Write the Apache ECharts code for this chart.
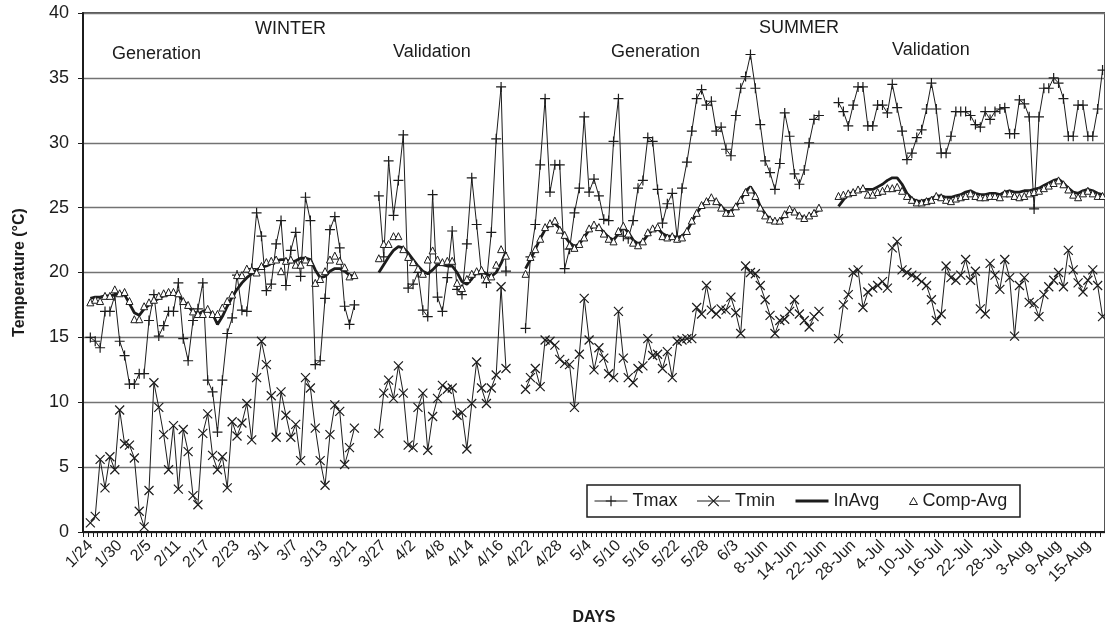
<!DOCTYPE html>
<html>
<head>
<meta charset="utf-8">
<script src="https://cdn.jsdelivr.net/npm/echarts@6/dist/echarts.min.js"></script>
<style>
  html, body { margin: 0; padding: 0; background: #fff; }
  #chart { width: 1105px; height: 631px; }
</style>
</head>
<body>
<div id="chart"></div>
<script>
// ---- day slots on the category axis ----
const dayCount = 209;
const tickLabels = ['1/24','1/30','2/5','2/11','2/17','2/23','3/1','3/7','3/13','3/21','3/27','4/2','4/8','4/14','4/16',
  '4/22','4/28','5/4','5/10','5/16','5/22','5/28','6/3','8-Jun','14-Jun','22-Jun','28-Jun','4-Jul','10-Jul','16-Jul',
  '22-Jul','28-Jul','3-Aug','9-Aug','15-Aug'];
const firstTickDay = 1;
const tickStep = 6;

// first day slot of each measurement period
const winterGenStart = 1;
const winterValStart = 60;
const summerGenStart = 90;
const summerValStart = 154;

// ---- winter, generation ----
const winterGenTmax = [15.0, 14.7, 14.2, 17.0, 17.0, 18.2, 14.7, 13.6, 11.4, 11.4, 12.2, 12.2, 16.3, 18.3, 15.1, 15.9,
  17.0, 17.0, 19.2, 14.9, 13.2, 16.3, 17.2, 19.2, 11.7, 10.8, 7.7, 11.7, 15.3, 16.5, 19.8, 17.1, 17.0, 20.3, 24.6, 22.8,
  18.6, 19.1, 22.2, 24.0, 19.0, 21.7, 23.1, 19.7, 25.8, 24.0, 12.9, 13.2, 18.0, 23.3, 24.3, 21.9, 17.4, 16.0, 17.5];
const winterGenTmin = [0.7, 1.2, 5.6, 3.4, 5.8, 4.8, 9.4, 6.8, 6.7, 5.7, 1.6, 0.4, 3.2, 11.5, 9.6, 7.5, 4.8, 8.2, 3.3,
  7.9, 6.2, 2.8, 2.1, 7.6, 9.1, 5.9, 4.8, 5.8, 3.4, 8.5, 7.4, 8.4, 9.9, 7.1, 11.9, 14.7, 12.9, 10.5, 7.3, 10.8, 9.0, 7.3,
  8.3, 5.5, 11.9, 11.1, 8.0, 5.5, 3.6, 7.5, 9.8, 9.3, 5.2, 6.5, 8.0];
const winterGenInAvg = [18.0, 18.1, 18.1, 18.2, 18.2, 18.3, 18.4, 18.3, 17.6, 16.9, 16.7, 17.2, 17.5, 17.8, 18.0, 18.2,
  18.3, 18.4, 18.3, 17.8, 17.4, 17.0, 16.8, 17.0, 17.1, 16.8, 16.0, 16.6, 17.4, 18.1, 18.7, 19.2, 19.6, 19.9, 20.2, 20.4,
  20.5, 20.7, 20.9, 21.0, 21.0, 20.8, 20.9, 21.1, 21.1, 21.0, 20.2, 19.6, 19.7, 20.1, 20.3, 20.3, 20.1, 19.8, 19.7];
const winterGenComp = [17.7, 17.9, 17.8, 18.2, 18.2, 18.7, 18.4, 18.5, 17.8, 16.4, 16.4, 17.4, 17.7, 17.9, 18.2, 18.4,
  18.5, 18.5, 18.4, 17.8, 17.5, 17.0, 16.8, 16.8, 17.2, 16.8, 16.8, 17.3, 17.8, 18.3, 19.8, 19.8, 20.3, 20.2, 20.0, 20.5,
  20.8, 20.9, 21.0, 20.1, 20.9, 21.0, 20.6, 20.6, 21.0, 20.8, 19.2, 19.5, 20.1, 21.0, 21.3, 20.9, 20.4, 19.7, 19.8];

// ---- winter, validation ----
const winterValTmax = [25.9, 21.2, 28.6, 24.4, 27.1, 30.6, 18.8, 19.1, 20.0, 17.1, 16.6, 26.0, 18.1, 17.0, 19.6, 23.2,
  18.7, 18.3, 22.2, 27.3, 23.7, 19.9, 19.2, 23.1, 30.3, 34.3, 20.1];
const winterValTmin = [7.6, 10.7, 11.7, 10.3, 12.8, 10.7, 6.7, 6.5, 9.6, 10.7, 6.3, 8.9, 10.3, 11.3, 11.0, 11.1, 9.0,
  9.2, 6.4, 9.9, 13.1, 11.1, 9.9, 11.1, 12.1, 18.9, 12.6];
const winterValInAvg = [20.0, 20.6, 21.2, 21.7, 22.0, 21.9, 21.5, 21.0, 20.5, 20.1, 19.9, 20.2, 20.6, 20.6, 20.5, 20.5,
  20.0, 19.3, 19.1, 19.5, 20.0, 20.1, 19.9, 19.7, 20.0, 20.7, 21.6];
const winterValComp = [21.1, 22.2, 22.2, 22.8, 22.8, 21.8, 21.2, 20.8, 20.3, 19.9, 21.0, 21.7, 21.0, 20.8, 20.9, 20.9,
  19.2, 18.8, 19.5, 19.9, 20.1, 20.2, 19.5, 19.7, 20.6, 21.8, 21.3];

// ---- summer, generation ----
const summerGenTmax = [15.7, 21.2, 23.7, 28.3, 33.4, 26.2, 28.3, 28.3, 20.3, 21.8, 24.6, 26.5, 32.0, 26.2, 27.2, 25.9,
  24.1, 24.0, 30.1, 33.4, 22.8, 22.6, 24.0, 26.5, 27.1, 30.4, 30.1, 26.4, 23.8, 25.3, 26.1, 22.7, 26.5, 28.5, 30.9, 33.4,
  34.1, 32.9, 33.2, 30.9, 31.2, 29.5, 29.0, 32.1, 34.2, 35.1, 36.8, 34.2, 31.4, 28.6, 27.7, 26.4, 28.4, 32.3, 30.5, 27.6,
  26.8, 27.9, 30.0, 31.8, 32.1];
const summerGenTmin = [11.0, 11.9, 12.6, 11.2, 14.8, 14.7, 14.4, 13.3, 13.0, 12.9, 9.6, 13.7, 18.0, 14.8, 12.5, 14.2,
  13.4, 12.2, 11.9, 17.0, 13.4, 11.9, 11.5, 12.6, 12.8, 14.9, 13.6, 13.7, 12.6, 13.9, 11.9, 14.7, 14.8, 14.9, 14.9, 17.3,
  16.8, 19.0, 17.1, 16.8, 17.2, 17.1, 18.1, 16.9, 15.3, 20.5, 20.0, 19.9, 19.0, 17.9, 16.7, 15.3, 16.3, 16.4, 17.0, 17.9,
  16.8, 16.3, 15.8, 16.6, 17.0];
const summerGenInAvg = [20.3, 21.0, 21.8, 22.6, 23.3, 23.7, 23.8, 23.4, 22.8, 22.3, 22.0, 22.2, 22.7, 23.3, 23.6, 23.5,
  23.1, 22.7, 22.5, 23.0, 23.5, 23.1, 22.5, 22.2, 22.4, 22.9, 23.3, 23.4, 23.0, 22.8, 22.8, 22.7, 22.8, 23.2, 23.9, 24.6,
  25.1, 25.5, 25.7, 25.5, 25.1, 24.7, 24.7, 25.1, 25.6, 26.3, 26.6, 26.0, 25.1, 24.5, 24.1, 23.9, 24.0, 24.4, 24.8, 24.7,
  24.4, 24.2, 24.3, 24.6, 24.8];
const summerGenComp = [19.9, 21.2, 21.8, 22.6, 23.5, 23.8, 24.0, 23.3, 22.9, 22.1, 21.9, 22.2, 22.7, 23.4, 23.7, 23.5,
  23.0, 22.6, 22.4, 23.2, 23.6, 23.0, 22.3, 22.1, 22.4, 23.1, 23.4, 23.5, 22.8, 22.7, 22.8, 22.6, 22.7, 23.2, 24.0, 24.6,
  25.2, 25.5, 25.8, 25.5, 25.0, 24.6, 24.6, 25.1, 25.6, 26.2, 26.4, 25.9, 25.0, 24.4, 24.1, 24.0, 24.0, 24.5, 24.9, 24.7,
  24.4, 24.2, 24.4, 24.6, 25.0];

// ---- summer, validation ----
const summerValTmax = [33.1, 32.4, 31.3, 32.9, 34.3, 34.3, 31.3, 31.3, 32.9, 32.9, 32.3, 34.5, 32.7, 30.9, 28.7, 29.2,
  30.4, 31.0, 32.6, 34.6, 32.6, 29.2, 29.2, 30.5, 32.4, 32.4, 32.4, 32.1, 31.4, 31.2, 32.4, 31.8, 32.4, 32.6, 32.7, 30.7,
  30.7, 33.3, 33.0, 32.0, 24.9, 32.0, 34.2, 34.2, 35.0, 34.6, 33.4, 30.5, 30.5, 32.9, 32.9, 30.5, 30.5, 32.6, 35.6];
const summerValTmin = [14.9, 17.5, 18.3, 20.0, 20.2, 17.3, 18.5, 18.8, 19.0, 19.3, 18.8, 21.9, 22.4, 20.2, 20.0, 19.8,
  19.6, 19.3, 19.0, 17.9, 16.3, 16.8, 20.5, 19.6, 19.4, 19.8, 21.0, 19.4, 20.1, 17.2, 16.8, 20.7, 19.8, 18.7, 21.0, 19.6,
  15.1, 19.0, 19.6, 17.7, 17.6, 16.6, 18.3, 18.9, 19.4, 20.0, 18.9, 21.7, 20.2, 19.2, 18.5, 19.4, 20.2, 19.0, 16.6];
const summerValInAvg = [25.1, 25.6, 26.0, 26.2, 26.3, 26.4, 26.4, 26.4, 26.6, 26.8, 27.1, 27.3, 27.3, 26.8, 26.1, 25.7,
  25.5, 25.5, 25.6, 25.7, 25.9, 25.9, 25.8, 25.8, 25.9, 26.0, 26.2, 26.3, 26.1, 26.0, 26.0, 26.1, 26.1, 26.0, 26.2, 26.3,
  26.2, 26.2, 26.3, 26.3, 26.4, 26.5, 26.7, 26.9, 27.1, 27.2, 26.9, 26.5, 26.2, 26.1, 26.3, 26.4, 26.3, 26.1, 26.0];
const summerValComp = [25.9, 26.0, 26.1, 26.2, 26.4, 26.5, 26.0, 26.0, 26.2, 26.3, 26.5, 26.5, 26.6, 26.3, 25.9, 25.6,
  25.4, 25.4, 25.5, 25.6, 25.9, 25.8, 25.6, 25.5, 25.7, 25.8, 25.9, 26.1, 25.9, 25.8, 25.8, 25.9, 25.9, 25.8, 26.1, 26.1,
  25.9, 25.8, 25.9, 26.1, 26.2, 26.3, 26.5, 26.7, 26.9, 27.1, 26.8, 26.4, 26.0, 25.8, 26.1, 26.3, 26.1, 25.9, 25.9];

// ---- assemble full-length series (null where no measurements) ----
function assemble(parts) {
  const out = new Array(dayCount).fill(null);
  parts.forEach(([start, vals]) => vals.forEach((v, k) => { out[start + k] = v; }));
  return out;
}
const isTick = (i) => i >= firstTickDay && (i - firstTickDay) % tickStep === 0;
const days = Array.from({ length: dayCount }, (_, i) =>
  isTick(i) ? tickLabels[(i - firstTickDay) / tickStep] : 'slot ' + i);

const tmax = assemble([[winterGenStart, winterGenTmax], [winterValStart, winterValTmax],
                       [summerGenStart, summerGenTmax], [summerValStart, summerValTmax]]);
const tmin = assemble([[winterGenStart, winterGenTmin], [winterValStart, winterValTmin],
                       [summerGenStart, summerGenTmin], [summerValStart, summerValTmin]]);
const inAvg = assemble([[winterGenStart, winterGenInAvg], [winterValStart, winterValInAvg],
                        [summerGenStart, summerGenInAvg], [summerValStart, summerValInAvg]]);
const compAvg = assemble([[winterGenStart, winterGenComp], [winterValStart, winterValComp],
                          [summerGenStart, summerGenComp], [summerValStart, summerValComp]]);

const FONT = "'Liberation Sans', Arial, Helvetica, sans-serif";
const INK = '#1c1c1c';
const PLUS = 'path://M0,5L10,5M5,0L5,10';
const CROSS = 'path://M0,0L10,10M10,0L0,10';

const chart = echarts.init(document.getElementById('chart'), null, { renderer: 'canvas' });

const periodLabels = [
  { text: 'WINTER', x: 255, y: 29 },
  { text: 'Generation', x: 112, y: 54 },
  { text: 'Validation', x: 393, y: 52 },
  { text: 'Generation', x: 611, y: 52 },
  { text: 'SUMMER', x: 759, y: 28 },
  { text: 'Validation', x: 892, y: 50 }
];

chart.setOption({
  animation: false,
  backgroundColor: '#fff',
  grid: { left: 83, top: 13, right: -2, bottom: 98, show: true, borderColor: INK, borderWidth: 1.5 },
  xAxis: {
    type: 'category',
    data: days,
    boundaryGap: true,
    name: 'DAYS',
    nameLocation: 'middle',
    nameGap: 78,
    nameTextStyle: { fontFamily: FONT, fontSize: 16, fontWeight: 'bold', color: INK },
    axisLine: { lineStyle: { color: INK, width: 2 } },
    axisTick: { show: true, interval: 0, length: 5, lineStyle: { color: INK, width: 1 } },
    axisLabel: {
      interval: (i) => isTick(i),
      formatter: (v) => v,
      rotate: 45,
      margin: 11,
      fontFamily: FONT,
      fontSize: 16,
      color: INK
    },
    splitLine: { show: false }
  },
  yAxis: {
    type: 'value',
    min: 0, max: 40, interval: 5,
    name: 'Temperature (°C)',
    nameLocation: 'middle',
    nameGap: 55,
    nameRotate: 90,
    nameTextStyle: { fontFamily: FONT, fontSize: 16, fontWeight: 'bold', color: INK },
    axisLine: { show: true, lineStyle: { color: INK, width: 2 } },
    axisTick: { show: true, length: 5, lineStyle: { color: INK } },
    axisLabel: { margin: 14, fontFamily: FONT, fontSize: 18, color: INK },
    splitLine: { lineStyle: { color: '#737373', width: 1.4 } }
  },
  legend: [
    {
      data: [
        { name: 'Tmax', itemStyle: { color: INK, borderColor: INK, borderWidth: 1.2 }, lineStyle: { width: 1, color: INK } },
        { name: 'Tmin', itemStyle: { color: INK, borderColor: INK, borderWidth: 1.2 }, lineStyle: { width: 1, color: INK } },
        { name: 'InAvg', itemStyle: { opacity: 0 }, lineStyle: { width: 3, color: INK } }
      ],
      left: 594, top: 492,
      padding: 0,
      itemWidth: 33, itemHeight: 13, itemGap: 19,
      selectedMode: false,
      textStyle: { fontFamily: FONT, fontSize: 18, color: INK, padding: [0, 0, 0, 0] }
    },
    {
      data: [{ name: 'Comp-Avg', icon: 'triangle', itemStyle: { color: '#fff', borderColor: INK, borderWidth: 1 } }],
      left: 909, top: 492,
      padding: 0,
      itemWidth: 8, itemHeight: 7, itemGap: 0,
      selectedMode: false,
      textStyle: { fontFamily: FONT, fontSize: 18, color: INK }
    }
  ],
  graphic: [
    {
      type: 'rect', z: 0, silent: true,
      shape: { x: 587, y: 485, width: 433, height: 32 },
      style: { fill: '#fff', stroke: INK, lineWidth: 1.5 }
    },
    ...periodLabels.map(p => ({
      type: 'text', silent: true, x: p.x, y: p.y,
      style: { text: p.text, fill: INK, font: `18px ${FONT}`, textAlign: 'left', textVerticalAlign: 'middle' }
    }))
  ],
  series: [
    {
      name: 'Tmax', type: 'line', data: tmax,
      symbol: PLUS, symbolSize: 10, showAllSymbol: true,
      itemStyle: { color: INK, borderColor: INK, borderWidth: 1.2 },
      lineStyle: { color: INK, width: 1 },
      connectNulls: false
    },
    {
      name: 'Tmin', type: 'line', data: tmin,
      symbol: CROSS, symbolSize: 9, showAllSymbol: true,
      itemStyle: { color: INK, borderColor: INK, borderWidth: 1.2 },
      lineStyle: { color: INK, width: 1 },
      connectNulls: false
    },
    {
      name: 'InAvg', type: 'line', data: inAvg,
      symbol: 'none',
      itemStyle: { color: INK },
      lineStyle: { color: INK, width: 2.8 },
      connectNulls: false
    },
    {
      name: 'Comp-Avg', type: 'line', data: compAvg,
      symbol: 'triangle', symbolSize: 7, showAllSymbol: true,
      itemStyle: { color: '#fff', borderColor: INK, borderWidth: 1 },
      lineStyle: { width: 0, opacity: 0 },
      connectNulls: false
    }
  ]
});
</script>
</body>
</html>
